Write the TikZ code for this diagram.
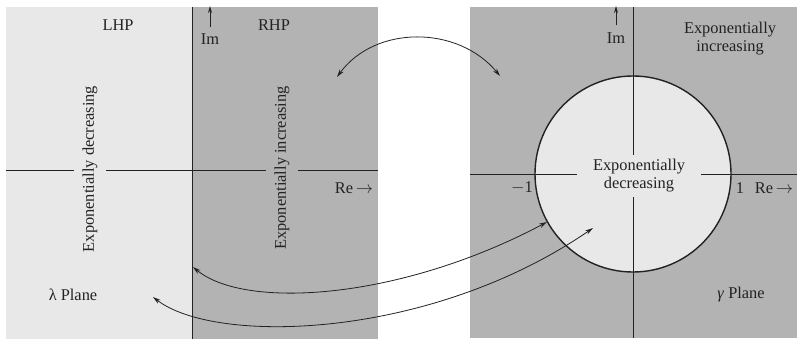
\documentclass[tikz,border=0pt]{standalone}
\usepackage{fontspec}
\setmainfont{Liberation Serif}
\usetikzlibrary{arrows.meta}
\definecolor{lightpanel}{HTML}{E8E8E8}
\definecolor{darkpanel}{HTML}{B3B3B3}
\definecolor{ink}{HTML}{222222}
\begin{document}
\begin{tikzpicture}[x=1pt,y=-1pt,
  lbl/.style={text=ink,font=\fontsize{16.4}{18}\selectfont,inner sep=0pt},
  axis/.style={draw=ink,line width=0.9pt},
  maparrow/.style={draw=ink,line width=0.8pt,{Stealth[length=8pt,width=4.5pt]}-{Stealth[length=8pt,width=4.5pt]}},
  imarrow/.style={draw=ink,line width=1pt,-{Stealth[length=7pt,width=4pt]}}]
\useasboundingbox (0,0) rectangle (797,340);
% panels
\fill[lightpanel] (6,7) rectangle (192,339);
\fill[darkpanel] (192,7) rectangle (378,339);
\fill[darkpanel] (470,7) rectangle (797,338);
% lambda plane axes
\draw[axis] (6,170) -- (378,170);
\draw[axis] (192,7) -- (192,339);
\node[lbl,rotate=90,fill=lightpanel,inner ysep=9pt,inner xsep=0pt] (dec) at (90,169) {Exponentially decreasing};
\node[lbl,rotate=90,fill=darkpanel,inner ysep=9pt,inner xsep=0pt] (inc) at (282,168) {Exponentially increasing};
\node[lbl] (lhp) at (118,25) {LHP};
\node[lbl] (rhp) at (274,25) {RHP};
\coordinate (imtailL) at (210,27);
\coordinate (imtipL) at (210,6);
\draw[imarrow] (imtailL) -- (imtipL);
\node[lbl] (imL) at (210,39) {Im};
\node[lbl] (reL) at (354,188) {Re\,$\rightarrow$};
\node[lbl] (lam) at (73,295) {λ Plane};
% gamma plane
\draw[axis] (470,174) -- (797,174);
\draw[axis] (633,7) -- (633,338);
\node[draw=ink,line width=1.4pt,fill=lightpanel,circle,minimum size=196pt,inner sep=0pt] (unit) at (633,174) {};
\draw[axis] (unit.west) -- (unit.east);
\draw[axis] (unit.north) -- (unit.south);
\node[lbl,fill=lightpanel,align=center,inner xsep=16pt,inner ysep=5pt] (cdec) at (639,176) {Exponentially\\decreasing};
\node[lbl] (m1) at (522,188) {$-$1};
\node[lbl] (p1) at (740,188) {1};
\node[lbl] (reR) at (774,188) {Re\,$\rightarrow$};
\coordinate (imtailR) at (616,25);
\coordinate (imtipR) at (616,6);
\draw[imarrow] (imtailR) -- (imtipR);
\node[lbl] (imR) at (616,38) {Im};
\node[lbl,align=center] (cinc) at (730,39) {Exponentially\\increasing};
\node[lbl] (gam) at (741,295) {\textit{γ} Plane};
% mapping arrows
\coordinate (a1) at (337,77);
\coordinate (a2) at (500,76);
\draw[maparrow] (a1) .. controls (375,25) and (458,25) .. (a2);
\coordinate (b1) at (193,267);
\coordinate (b2) at (547,222);
\draw[maparrow] (b1) .. controls (245,310) and (400,300) .. (b2);
\coordinate (c1) at (153,297);
\coordinate (c2) at (593,228);
\draw[maparrow] (c1) .. controls (215,345) and (430,340) .. (c2);
\end{tikzpicture}
\end{document}
